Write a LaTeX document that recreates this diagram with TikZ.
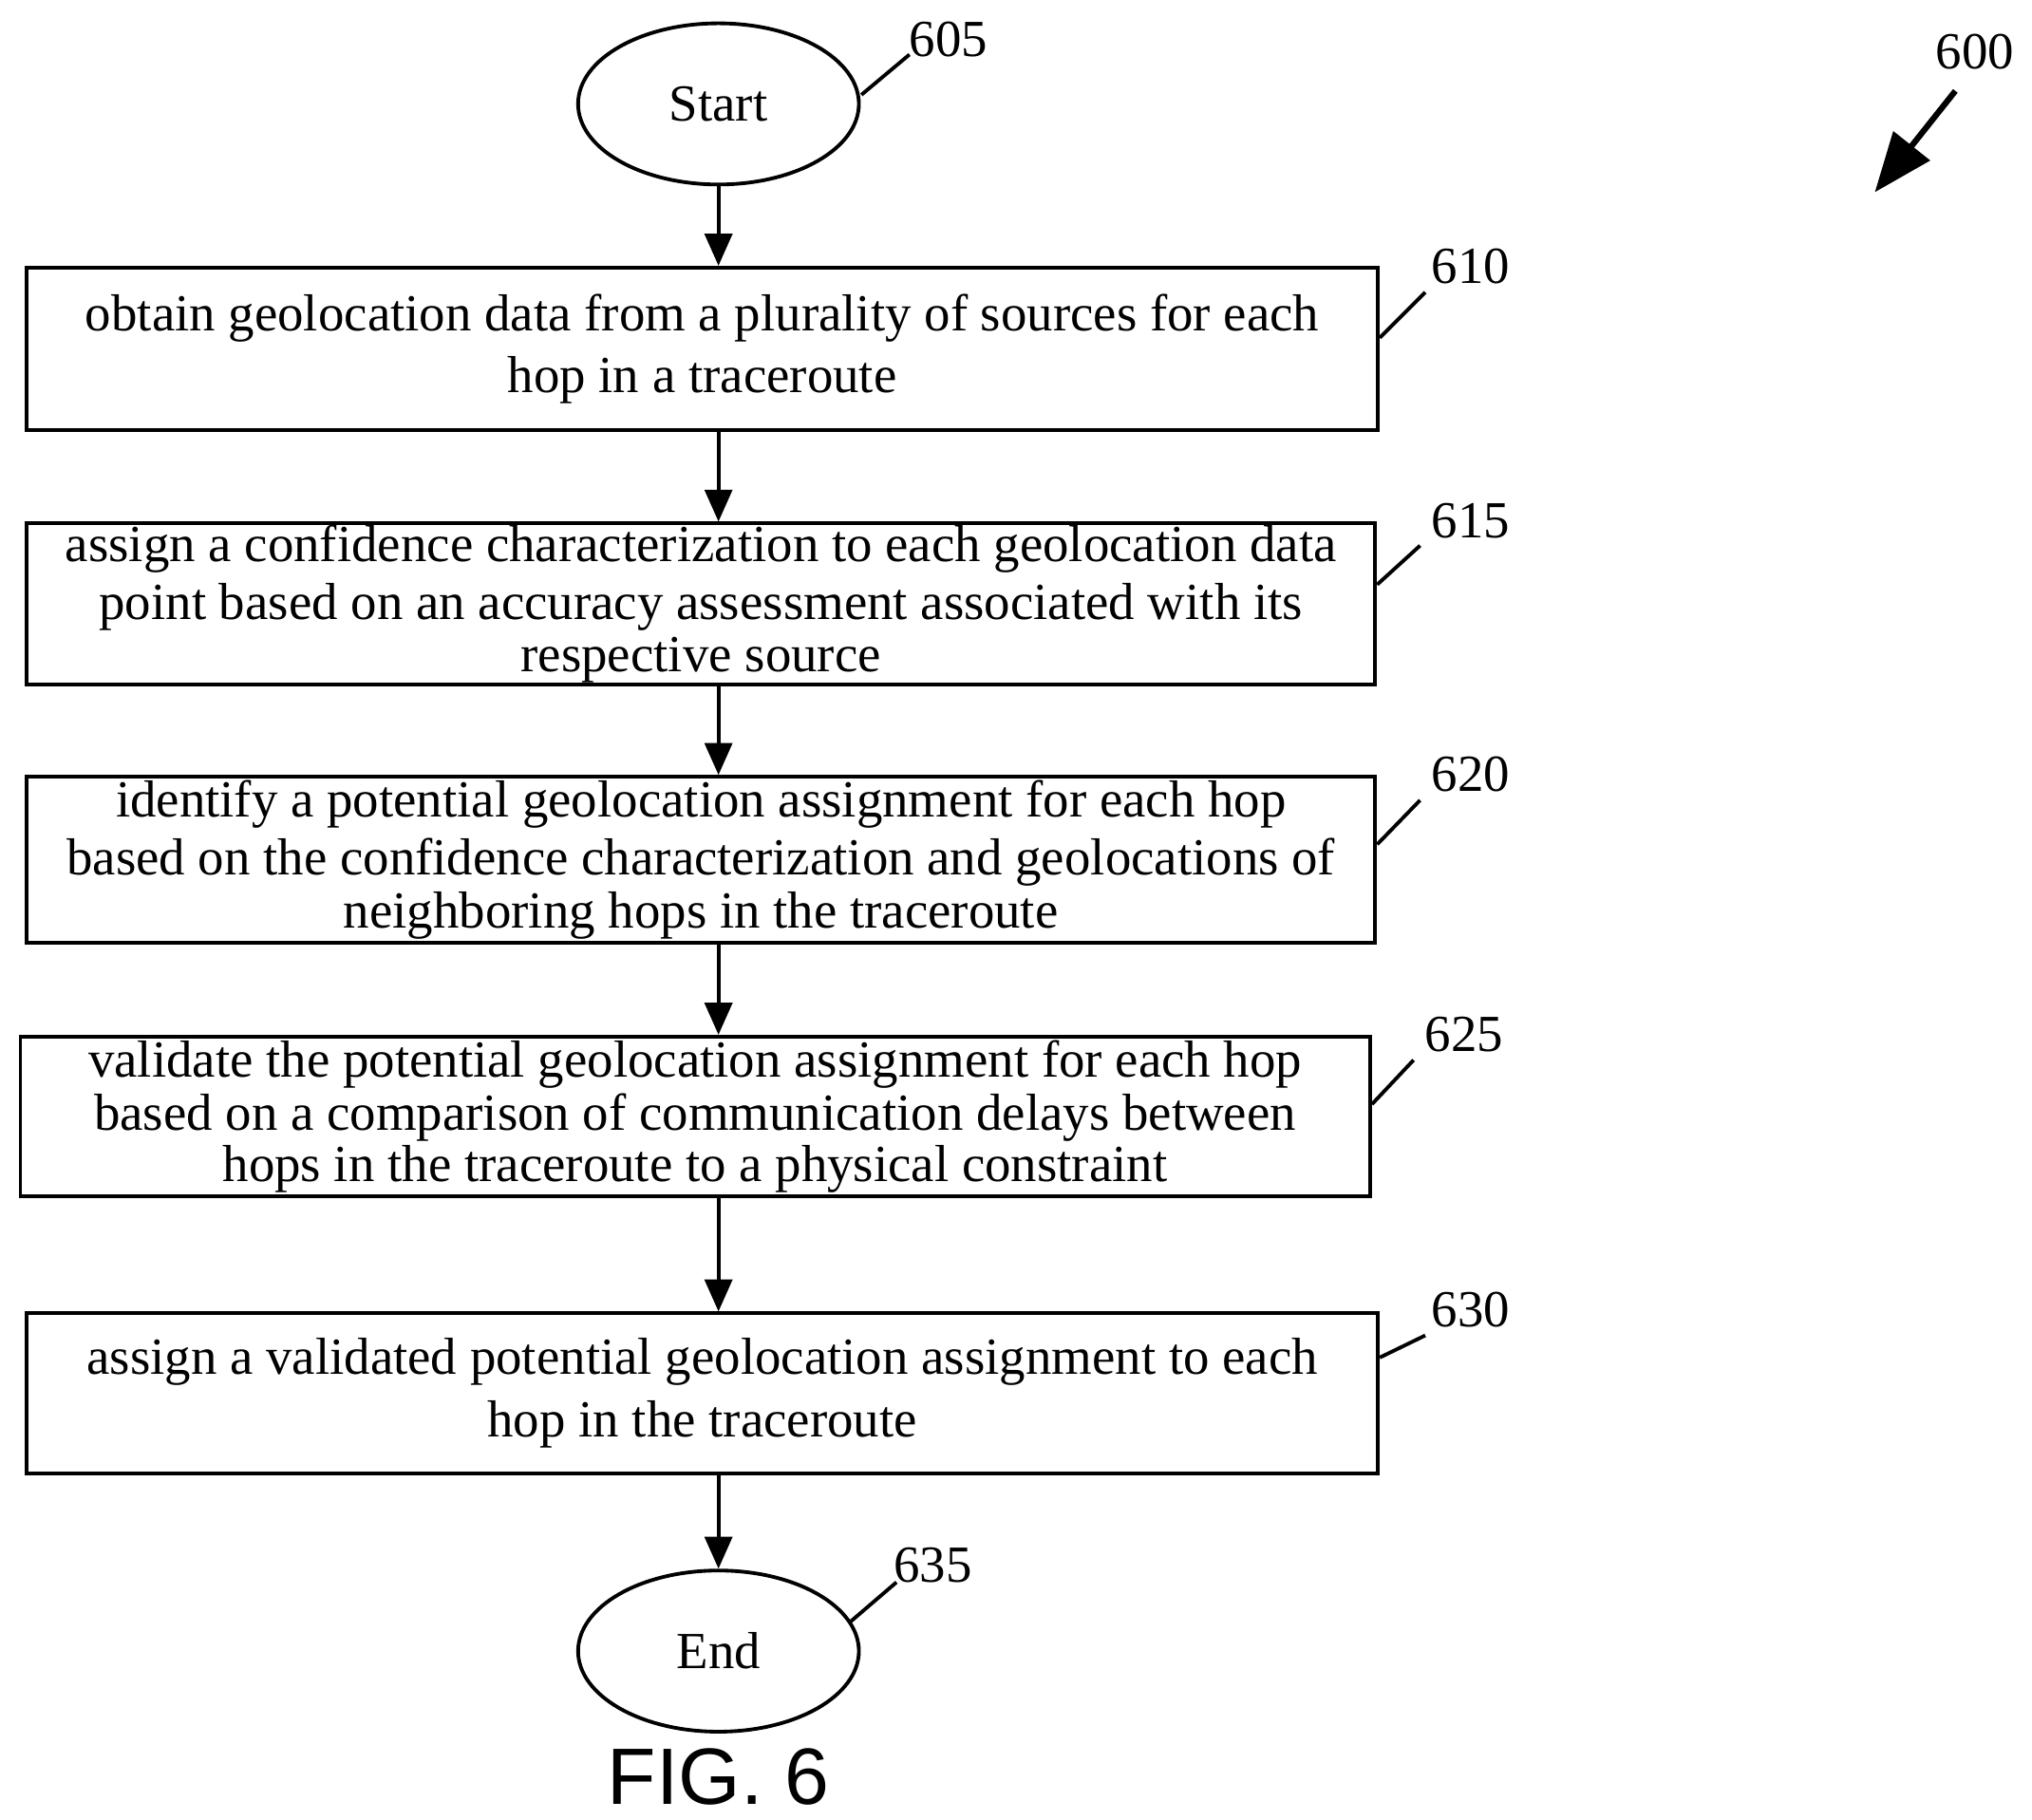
\documentclass[tikz,border=0pt]{standalone}
\usepackage{fontspec}
\setmainfont{Liberation Serif}
\setsansfont{Liberation Sans}
\usetikzlibrary{shapes.geometric,arrows.meta}
\begin{document}
\begin{tikzpicture}[x=0.01cm,y=-0.01cm,
  box/.style={draw,line width=0.8pt,inner sep=0pt,align=center,font=\fontsize{11.4}{12.6}\selectfont},
  term/.style={draw,ellipse,line width=0.8pt,font=\fontsize{11.4}{12.6}\selectfont},
  arr/.style={-{Triangle[length=7pt,width=6pt]},line width=0.8pt},
  lead/.style={line width=0.8pt},
  lbl/.style={font=\fontsize{11.4}{12.6}\selectfont}]
\useasboundingbox (0,0) rectangle (1564,1401);
\node[term,minimum width=2.16cm,minimum height=1.24cm] (s) at (553,80) {Start};
\node[box,minimum width=10.39cm,minimum height=1.25cm] (b1) at (540.5,268.5) {obtain geolocation data from a plurality of sources for each\\[1pt] hop in a traceroute};
\node[box,minimum width=10.37cm,minimum height=1.24cm] (b2) at (539.5,465) {assign a confidence characterization to each geolocation data\\[0pt] point based on an accuracy assessment associated with its\\[-1pt] respective source};
\node[box,minimum width=10.37cm,minimum height=1.28cm] (b3) at (539.5,662) {identify a potential geolocation assignment for each hop\\[0pt] based on the confidence characterization and geolocations of\\[-1pt] neighboring hops in the traceroute};
\node[box,minimum width=10.38cm,minimum height=1.23cm] (b4) at (535,859.5) {validate the potential geolocation assignment for each hop\\[-1pt] based on a comparison of communication delays between\\[-1.5pt] hops in the traceroute to a physical constraint};
\node[box,minimum width=10.39cm,minimum height=1.23cm] (b5) at (540.5,1072.5) {assign a validated potential geolocation assignment to each\\[1pt] hop in the traceroute};
\node[term,minimum width=2.16cm,minimum height=1.24cm] (e) at (553,1271) {End};
\draw[arr] (s.south) -- (s.south |- b1.north);
\draw[arr] (553,331) coordinate (c1) -- (c1 |- b2.north);
\draw[arr] (553,527) coordinate (c2) -- (c2 |- b3.north);
\draw[arr] (553,726) coordinate (c3) -- (c3 |- b4.north);
\draw[arr] (553,921) coordinate (c4) -- (c4 |- b5.north);
\draw[arr] (553,1134) coordinate (c5) -- (e.north);
\node[lbl] (l605) at (730,30) {605};
\coordinate (p605) at (663,73);
\draw[lead] (p605) -- (700,42);
\node[lbl] (l610) at (1132,205) {610};
\coordinate (p610) at (1062,260);
\draw[lead] (p610) -- (1097,225);
\node[lbl] (l615) at (1132,401) {615};
\draw[lead] (1060,450) coordinate (p615) -- (1093,420);
\node[lbl] (l620) at (1132,596) {620};
\draw[lead] (1060,650) coordinate (p620) -- (1093,616);
\node[lbl] (l625) at (1127,796) {625};
\draw[lead] (1056,850) coordinate (p625) -- (1088,816);
\node[lbl] (l630) at (1132,1008) {630};
\draw[lead] (1062,1045) coordinate (p630) -- (1097,1028);
\node[lbl] (l635) at (718,1205) {635};
\draw[lead] (655,1248) coordinate (p635) -- (690,1218);
\node[lbl] (l600) at (1520,40) {600};
\coordinate (a600) at (1505,70);
\coordinate (t600) at (1443,148);
\draw[-{Triangle[length=13pt,width=10pt]},line width=1.3pt] (a600) -- (t600);
\node[font=\sffamily\fontsize{17.5}{20}\selectfont] (fig) at (553,1368) {FIG. 6};
\end{tikzpicture}
\end{document}
